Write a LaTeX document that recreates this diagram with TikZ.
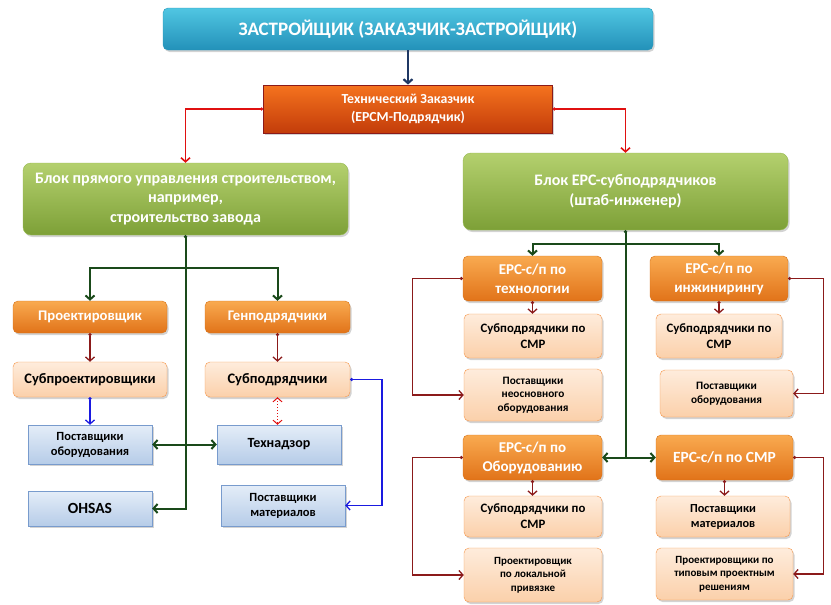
\documentclass[tikz,border=0pt]{standalone}
\usepackage{fontspec}
\setmainfont{Carlito}
\usetikzlibrary{arrows.meta,shadows,calc}
\newcommand\myfs[2]{\fontsize{#1}{#2}\selectfont}
\definecolor{navy}{HTML}{1F3864}
\definecolor{brred}{HTML}{E01010}
\definecolor{dgreen}{HTML}{1A4A1A}
\definecolor{dred}{HTML}{8B1A1A}
\definecolor{bblue}{HTML}{1A1AE0}
\tikzset{
  base/.style={align=center, inner sep=1pt, font=\bfseries, drop shadow={opacity=0.35, shadow xshift=1.5pt, shadow yshift=-2pt}},
  cyanbox/.style={base, rounded corners=5pt, draw={rgb,255:red,40;green,150;blue,185}, top color={rgb,255:red,80;green,198;blue,226}, bottom color={rgb,255:red,35;green,145;blue,185}, text=white},
  tzbox/.style={base, draw=dred, line width=0.8pt, top color={rgb,255:red,245;green,115;blue,30}, bottom color={rgb,255:red,195;green,60;blue,10}, text=white},
  greenbox/.style={base, rounded corners=8pt, draw={rgb,255:red,150;green,185;blue,80}, top color={rgb,255:red,180;green,208;blue,110}, bottom color={rgb,255:red,125;green,160;blue,55}, text=white},
  orbox/.style={base, rounded corners=5pt, draw={rgb,255:red,215;green,115;blue,25}, top color={rgb,255:red,249;green,170;blue,80}, bottom color={rgb,255:red,225;green,115;blue,25}, text=white},
  pchbox/.style={base, rounded corners=5pt, draw={rgb,255:red,245;green,150;blue,75}, top color={rgb,255:red,254;green,236;blue,220}, bottom color={rgb,255:red,251;green,208;blue,170}, text=black},
  blbox/.style={base, draw={rgb,255:red,120;green,155;blue,205}, top color={rgb,255:red,228;green,237;blue,248}, bottom color={rgb,255:red,182;green,204;blue,232}, text=black},
  tip/.style={-{Straight Barb[length=4pt,width=9pt]}},
  dtip/.style={{Straight Barb[length=4pt,width=9pt]}-{Straight Barb[length=4pt,width=9pt]}},
  dotip/.style={{Circle[length=3pt]}-{Straight Barb[length=4pt,width=9pt]}},
  navyline/.style={draw=navy, line width=2.2pt},
  redline/.style={draw=brred, line width=1.6pt},
  grnline/.style={draw=dgreen, line width=2pt},
  drline/.style={draw=dred, line width=1.3pt},
  blline/.style={draw=bblue, line width=1.3pt},
}
\begin{document}
\begin{tikzpicture}[x=1pt,y=-1pt]
\useasboundingbox (0,0) rectangle (831,605);
% top
\node[cyanbox, minimum width=490pt, minimum height=42pt, font=\bfseries\myfs{19}{22}] (top) at (408,29) {ЗАСТРОЙЩИК (ЗАКАЗЧИК-ЗАСТРОЙЩИК)};
\node[tzbox, minimum width=289pt, minimum height=48pt, font=\bfseries\myfs{13.8}{18.5}] (tz) at (408,109) {Технический Заказчик\\(EPCM-Подрядчик)};
\node[greenbox, minimum width=325pt, minimum height=72pt, font=\bfseries\myfs{16}{19.5}] (gl) at (185.5,199) {Блок прямого управления строительством,\\например,\\строительство завода};
\node[greenbox, minimum width=325pt, minimum height=77pt, font=\bfseries\myfs{16}{20}] (gr) at (625.5,191.5) {Блок EPC-субподрядчиков\\(штаб-инженер)};
% left block
\node[orbox, minimum width=154pt, minimum height=32pt, font=\bfseries\myfs{14.7}{17}] (pr) at (90,317) {Проектировщик};
\node[orbox, minimum width=145pt, minimum height=32pt, font=\bfseries\myfs{14.7}{17}] (gp) at (277.5,317) {Генподрядчики};
\node[pchbox, minimum width=154pt, minimum height=35pt, font=\bfseries\myfs{14.5}{17}] (spr) at (90,379.5) {Субпроектировщики};
\node[pchbox, minimum width=145pt, minimum height=35pt, font=\bfseries\myfs{14.5}{17}] (spd) at (277.5,379.5) {Субподрядчики};
\node[blbox, minimum width=124pt, minimum height=39pt, font=\bfseries\myfs{12.5}{15}] (po) at (90,444.5) {Поставщики\\оборудования};
\node[blbox, minimum width=124pt, minimum height=39pt, font=\bfseries\myfs{14}{16}] (tn) at (279,444.5) {Технадзор};
\node[blbox, minimum width=124pt, minimum height=35pt, font=\bfseries\myfs{15.5}{17}] (oh) at (90,508.5) {OHSAS};
\node[blbox, minimum width=124pt, minimum height=41pt, font=\bfseries\myfs{12.5}{15}] (pm) at (283,505.5) {Поставщики\\материалов};
% right block
\node[orbox, minimum width=139pt, minimum height=45pt, font=\bfseries\myfs{15}{19}] (et) at (532.5,278.5) {EPC-с/п по\\технологии};
\node[orbox, minimum width=138pt, minimum height=45pt, font=\bfseries\myfs{15}{19}] (ei) at (719,278.5) {EPC-с/п по\\инжинирингу};
\node[pchbox, minimum width=138pt, minimum height=44pt, font=\bfseries\myfs{12.8}{16}] (s1) at (533,336) {Субподрядчики по\\СМР};
\node[pchbox, minimum width=126pt, minimum height=44pt, font=\bfseries\myfs{12.8}{16}] (s2) at (719,336) {Субподрядчики по\\СМР};
\node[pchbox, minimum width=138pt, minimum height=52pt, font=\bfseries\myfs{11.3}{13.5}] (pn) at (533,395) {Поставщики\\неосновного\\оборудования};
\node[pchbox, minimum width=133pt, minimum height=47pt, font=\bfseries\myfs{11.3}{13.5}] (po2) at (726.5,393.5) {Поставщики\\оборудования};
\node[orbox, minimum width=139pt, minimum height=45pt, font=\bfseries\myfs{15}{19}] (eo) at (532.5,457.5) {EPC-с/п по\\Оборудованию};
\node[orbox, minimum width=137pt, minimum height=45pt, font=\bfseries\myfs{15.5}{19}] (es) at (724.5,457.5) {EPC-с/п по СМР};
\node[pchbox, minimum width=138pt, minimum height=41pt, font=\bfseries\myfs{12.8}{16}] (s3) at (533,516.5) {Субподрядчики по\\СМР};
\node[pchbox, minimum width=134pt, minimum height=41pt, font=\bfseries\myfs{12.3}{15}] (pm2) at (723,516.5) {Поставщики\\материалов};
\node[pchbox, minimum width=138pt, minimum height=54pt, font=\bfseries\myfs{11}{13.5}] (pl) at (533,575) {Проектировщик\\по локальной\\привязке};
\node[pchbox, minimum width=137pt, minimum height=52pt, font=\bfseries\myfs{11}{13.5}] (pt) at (724.5,574) {Проектировщики по\\типовым проектным\\решениям};
% coordinates
\coordinate (j1) at (185.5,268);
\coordinate (j2) at (625.5,244);
\coordinate (j3) at (625.5,457.5);
\coordinate (b1) at (382,379.5);
% connectors top
\draw[navyline, tip] (top.south) -- (tz.north);
\draw[redline, dotip] (tz.west) -| (gl.north);
\draw[redline, dotip] (tz.east) -| (gr.north);
% left tree
\draw[grnline, {Circle[length=3pt]}-] (gl.south) -- (j1);
\draw[grnline, tip] (j1) -| (pr.north);
\draw[grnline, tip] (j1) -| (gp.north);
\draw[grnline, tip] (j1) |- (oh.east);
\draw[grnline, dtip] (po.east) -- (tn.west);
\draw[drline, dotip] (pr.south) -- (spr.north);
\draw[drline, dotip] (gp.south) -- (spd.north);
\draw[blline, dotip] (spr.south) -- (po.north);
\draw[draw=brred, line width=1pt, dotted, dtip] (spd.south) -- (spd.south |- tn.north);
\draw[blline, dotip] (spd.east) -- (b1) |- (pm.east);
% right tree
\draw[grnline, {Circle[length=3pt]}-] (gr.south) -- (j2);
\draw[grnline, tip] (j2) -| (et.north);
\draw[grnline, tip] (j2) -| (ei.north);
\draw[grnline] (j2) -- (j3);
\draw[grnline, dtip] (eo.east) -- (es.west);
\draw[drline, dotip] (et.south) -- (et.south |- s1.north);
\draw[drline, dotip] (ei.south) -- (ei.south |- s2.north);
\draw[drline, dotip] (eo.south) -- (eo.south |- s3.north);
\draw[drline, dotip] (es.south) -- (es.south |- pm2.north);
\draw[drline, dotip] (et.west) -- ++(-50,0) |- (pn.west);
\draw[drline, dotip] (eo.west) -- ++(-50,0) |- (pl.west);
\draw[drline, dotip] (ei.east) -- ++(35,0) |- (po2.east);
\draw[drline, dotip] (es.east) -- ++(30,0) |- (pt.east);
\end{tikzpicture}
\end{document}
